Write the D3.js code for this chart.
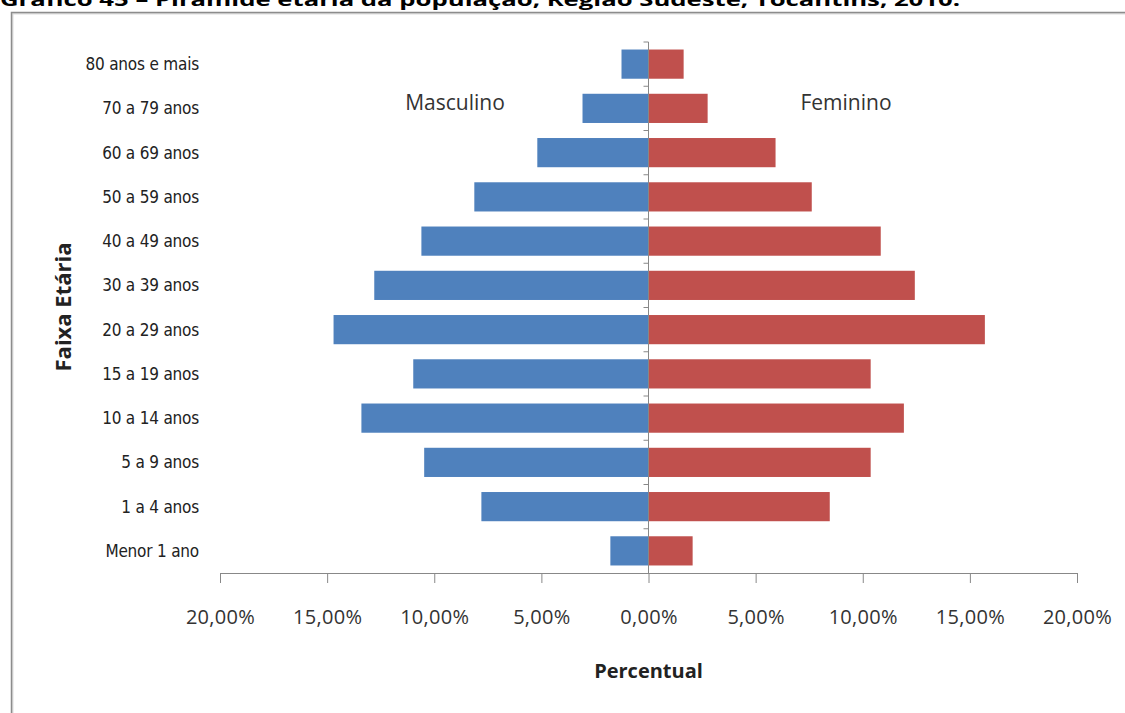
<!DOCTYPE html>
<html><head><meta charset="utf-8">
<script src="https://cdn.jsdelivr.net/npm/d3@7"></script>
<style>body{margin:0;background:#fff;overflow:hidden}</style>
</head><body>
<script>
const categories = ["80 anos e mais","70 a 79 anos","60 a 69 anos","50 a 59 anos","40 a 49 anos","30 a 39 anos","20 a 29 anos","15 a 19 anos","10 a 14 anos","5 a 9 anos","1 a 4 anos","Menor 1 ano"];
const masculino = [1.26,3.08,5.19,8.13,10.6,12.8,14.7,10.98,13.4,10.47,7.8,1.78];
const feminino  = [1.64,2.76,5.93,7.62,10.84,12.43,15.7,10.37,11.92,10.37,8.46,2.06];
const tickValues = [-20,-15,-10,-5,0,5,10,15,20];

const W=1125,H=713;
const svg=d3.select("body").append("svg").attr("width",W).attr("height",H);

// title (clipped at top, as in the source)
svg.append("text").attr("x",0).attr("y",6)
  .attr("font-family","Open Sans, sans-serif").attr("font-weight","bold").attr("font-size",18)
  .attr("fill","#000").attr("textLength",960).attr("lengthAdjust","spacingAndGlyphs")
  .text("Gráfico 45 – Pirâmide etária da população, Região Sudeste, Tocantins, 2010.");

// frame
svg.append("rect").attr("x",12.5).attr("y",13.5).attr("width",1200).attr("height",800)
  .attr("fill","none").attr("stroke","#ddd").attr("stroke-width",2);
svg.append("rect").attr("x",11.5).attr("y",12.5).attr("width",1200).attr("height",800)
  .attr("fill","none").attr("stroke","#8c8c8c").attr("stroke-width",1.5);

const x=d3.scaleLinear().domain([-20,20]).range([220,1077]);
const y=d3.scaleBand().domain(categories).range([42,573]).paddingInner(0.34).paddingOuter(0.17);

const font="Open Sans, sans-serif";

// bars
svg.append("g").selectAll("rect").data(categories).join("rect")
  .attr("x",(d,i)=>x(-masculino[i])).attr("width",(d,i)=>x(0)-x(-masculino[i]))
  .attr("y",d=>y(d)).attr("height",y.bandwidth()).attr("fill","#4F81BD");
svg.append("g").selectAll("rect").data(categories).join("rect")
  .attr("x",x(0)).attr("width",(d,i)=>x(feminino[i])-x(0))
  .attr("y",d=>y(d)).attr("height",y.bandwidth()).attr("fill","#C0504D");

// x axis
const xAxis=d3.axisBottom(x).tickValues(tickValues).tickSize(10).tickPadding(27)
  .tickFormat(d=>Math.abs(d).toFixed(2).replace(".",",")+"%");
const gx=svg.append("g").attr("transform","translate(0,573)").call(xAxis);
gx.select(".domain").attr("stroke","#888");
gx.selectAll(".tick line").attr("stroke","#888");
gx.selectAll(".tick text").attr("font-family",font).attr("font-size",20).attr("fill","#333")
  .attr("letter-spacing","0.3");

// vertical axis at zero with small ticks between categories
const step=y.step();
const vy=svg.append("g");
vy.append("line").attr("x1",x(0)).attr("x2",x(0)).attr("y1",42).attr("y2",573).attr("stroke","#888");
const edges=d3.range(categories.length).map(i=>42+step*i);
vy.selectAll("line.t").data(edges).join("line").attr("class","t")
  .attr("x1",x(0)-5).attr("x2",x(0)).attr("y1",d=>d).attr("y2",d=>d).attr("stroke","#888");

// category labels
svg.append("g").selectAll("text").data(categories).join("text")
  .attr("x",199).attr("y",d=>y(d)+y.bandwidth()/2).attr("dy","0.35em")
  .attr("text-anchor","end").attr("font-family","Liberation Sans Narrow, DejaVu Sans Condensed, sans-serif")
  .attr("font-size",17).attr("fill","#222").attr("letter-spacing","-0.2")
  .text(d=>d);

// axis titles
svg.append("text").attr("x",x(0)).attr("y",678).attr("text-anchor","middle")
  .attr("font-family",font).attr("font-weight","bold").attr("font-size",20).attr("fill","#222").text("Percentual");
svg.append("text").attr("transform","translate(71,307) rotate(-90)").attr("text-anchor","middle")
  .attr("font-family",font).attr("font-weight","bold").attr("font-size",22).attr("fill","#222").text("Faixa Etária");

// series labels
svg.append("text").attr("x",455).attr("y",110).attr("text-anchor","middle")
  .attr("font-family",font).attr("font-size",21).attr("fill","#333").text("Masculino");
svg.append("text").attr("x",846).attr("y",110).attr("text-anchor","middle")
  .attr("font-family",font).attr("font-size",21).attr("fill","#333").text("Feminino");
</script>
</body></html>
